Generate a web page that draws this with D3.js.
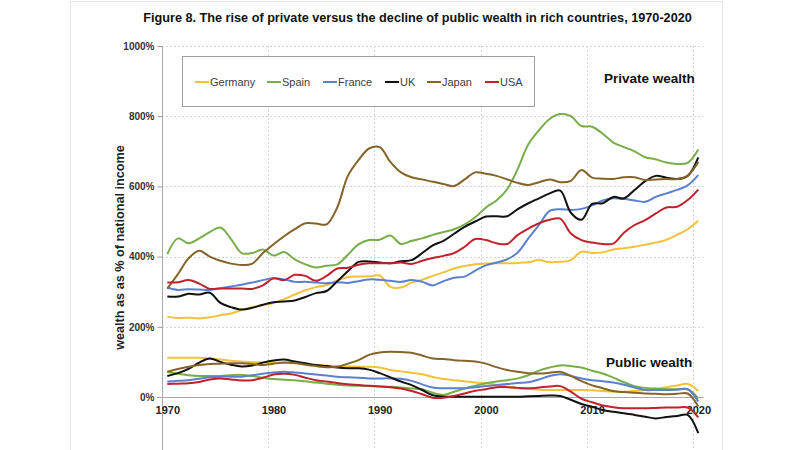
<!DOCTYPE html>
<html>
<head>
<meta charset="utf-8">
<script src="https://cdn.jsdelivr.net/npm/d3@7"></script>
<style>
  html, body { margin: 0; padding: 0; background: #fff; }
  svg { display: block; font-family: "Liberation Sans", Arial, sans-serif; }
</style>
</head>
<body>
<svg id="chart" width="800" height="450"></svg>
<script>
// ---------- DATA ----------
const years = d3.range(1970, 2021);
const countries = ["Germany", "Spain", "France", "UK", "Japan", "USA"];
const colors = ["#F3C13A", "#78AD4B", "#5B80CF", "#111111", "#846428", "#C0222B"];
const yTicks = [0, 200, 400, 600, 800, 1000];
const xTickYears = [1970, 1980, 1990, 2000, 2010, 2020];

const privateGermany = [229,225,226,224,227,233,238,248,256,262,268,279,292,304,313,319,332,342,343,344,346,314,312,326,334,345,355,366,373,378,380,381,381,382,384,390,384,385,390,414,410,412,420,424,428,434,440,448,462,478,502];
const privateSpain = [407,452,438,452,470,483,450,410,410,420,403,413,392,378,369,374,378,405,435,447,448,460,436,445,452,462,470,478,492,512,540,560,592,650,720,760,792,806,800,772,770,750,725,712,700,683,677,668,664,667,705];
const privateFrance = [311,305,307,306,305,310,315,320,326,333,338,335,328,328,326,324,327,325,330,335,334,331,328,333,328,318,330,340,343,360,375,383,392,412,452,490,530,535,533,536,546,560,566,564,560,556,570,580,590,603,632];
const privateUK = [286,286,294,292,297,268,256,249,254,263,270,272,275,285,296,302,330,358,385,386,383,381,387,390,410,432,445,465,485,500,514,515,515,535,552,566,580,588,525,505,550,552,570,566,590,615,630,625,621,630,683];
const privateJapan = [309,350,395,417,400,388,380,376,380,410,435,458,478,495,494,492,540,630,675,708,712,670,640,626,620,613,607,601,620,640,636,630,620,610,604,612,620,612,616,647,625,622,621,626,626,618,620,621,621,630,670];
const privateUSA = [326,327,333,323,308,309,309,309,308,318,338,333,348,345,331,345,366,368,377,381,381,381,383,379,388,396,402,410,428,450,447,438,436,462,480,495,505,508,466,447,440,436,437,468,490,504,523,540,542,561,591];

const publicGermany = [112,112,112,112,110,107,103,101,99,99,98,97,96,94,91,90,88,87,86,86,84,77,73,69,65,57,51,48,45,41,39,35,30,25,23,21,20,20,20,20,19,17,15,15,17,20,22,28,33,37,17];
const publicSpain = [72,66,62,60,60,60,62,63,60,55,51,49,48,45,41,38,35,33,32,31,30,29,27,24,22,12,6,15,24,32,39,44,48,53,62,75,84,90,88,84,75,67,55,42,31,26,24,22,22,22,-4];
const publicFrance = [44,46,48,52,56,58,58,58,62,66,70,72,70,67,64,61,58,56,55,53,53,53,52,46,36,27,25,25,25,28,31,34,37,40,42,50,60,65,60,53,48,45,41,35,27,20,20,20,21,22,-13];
const publicUK = [60,68,80,98,110,100,92,87,90,98,104,107,101,96,91,88,84,82,82,78,68,56,44,34,20,5,1,1,1,1,1,1,1,1,2,3,4,3,-8,-20,-28,-37,-42,-46,-51,-56,-61,-57,-54,-51,-103];
const publicJapan = [72,80,86,91,94,95,96,96,94,91,95,98,97,92,88,85,86,95,105,120,127,129,128,126,118,110,108,105,103,101,95,85,77,72,68,67,69,72,60,45,33,25,17,14,12,10,9,8,9,10,-27];
const publicUSA = [37,38,39,43,50,53,50,47,48,55,64,66,63,55,48,44,40,36,34,32,30,28,24,17,8,-2,-2,3,10,18,22,28,28,26,25,27,30,31,15,-5,-15,-24,-29,-32,-32,-32,-31,-30,-30,-30,-58];

const privateSeries = [privateGermany, privateSpain, privateFrance, privateUK, privateJapan, privateUSA];
const publicSeries = [publicGermany, publicSpain, publicFrance, publicUK, publicJapan, publicUSA];

// ---------- CHART ----------
const svg = d3.select("#chart");
const W = 800, H = 450;
const plotL = 162, plotR = 703.6, plotT = 46, zeroY = 397;

const x = d3.scaleLinear().domain([1969.5, 2020.5]).range([plotL, plotR]);
const y = d3.scaleLinear().domain([0, 1000]).range([zeroY, plotT]);

// page frame
svg.append("rect").attr("x", 0).attr("y", 0).attr("width", W).attr("height", H).attr("fill", "#fff");
svg.append("path").attr("d", `M70.5,${H} V1.5 H722.5 V${H}`).attr("fill", "none").attr("stroke", "#e4e4e4").attr("stroke-width", 1);

// gridlines
const grid = svg.append("g").attr("stroke", "#d6d6d6").attr("stroke-dasharray", "2,2").attr("stroke-width", 1);
grid.selectAll("line.h").data(yTicks.filter(d => d > 0)).enter().append("line")
  .attr("x1", plotL).attr("x2", plotR)
  .attr("y1", d => Math.round(y(d)) + 0.5).attr("y2", d => Math.round(y(d)) + 0.5);
grid.selectAll("line.v").data(xTickYears.slice(1)).enter().append("line")
  .attr("x1", d => Math.round(x(d - 0.5)) + 0.5).attr("x2", d => Math.round(x(d - 0.5)) + 0.5)
  .attr("y1", plotT).attr("y2", H);

// y axis
const yAxis = d3.axisLeft(y).tickValues(yTicks).tickSize(5).tickPadding(3).tickFormat(d => d + "%");
const gy = svg.append("g").attr("transform", `translate(${plotL + 0.5},0)`).call(yAxis);
gy.select(".domain").remove();
gy.selectAll(".tick line").attr("stroke", "#999");
gy.selectAll(".tick text").attr("font-size", 10).attr("font-weight", "bold").attr("fill", "#333")
  .attr("font-family", "Liberation Sans, Arial, sans-serif");
svg.append("line").attr("x1", plotL + 0.5).attr("x2", plotL + 0.5).attr("y1", plotT).attr("y2", H)
  .attr("stroke", "#a8a8a8").attr("stroke-width", 1);

// zero line (x axis)
svg.append("line").attr("x1", plotL - 5).attr("x2", plotR).attr("y1", zeroY + 0.5).attr("y2", zeroY + 0.5)
  .attr("stroke", "#a8a8a8").attr("stroke-width", 1);

// x labels
const xAxis = d3.axisBottom(x).tickValues(xTickYears).tickSize(0).tickPadding(9).tickFormat(d3.format("d"));
const gx = svg.append("g").attr("transform", `translate(0,${zeroY})`).call(xAxis);
gx.select(".domain").remove();
gx.selectAll(".tick text").attr("font-size", 11).attr("font-weight", "bold").attr("fill", "#222")
  .attr("font-family", "Liberation Sans, Arial, sans-serif");

// lines
const line = d3.line().x((d, i) => x(years[i])).y(d => y(d)).curve(d3.curveCatmullRom.alpha(0.5));
const linesG = svg.append("g").attr("fill", "none").attr("stroke-width", 2).attr("stroke-linejoin", "round");
publicSeries.forEach((s, i) => {
  linesG.append("path").attr("d", line(s)).attr("stroke", colors[i]);
});
privateSeries.forEach((s, i) => {
  linesG.append("path").attr("d", line(s)).attr("stroke", colors[i]);
});

// legend
const lg = svg.append("g");
lg.append("rect").attr("x", 182.5).attr("y", 56.5).attr("width", 352).attr("height", 50)
  .attr("fill", "#fff").attr("stroke", "#a0a0a0").attr("stroke-width", 1);
const legendX = [195, 267, 323, 385, 427, 485];
countries.forEach((c, i) => {
  lg.append("line").attr("x1", legendX[i]).attr("x2", legendX[i] + 14).attr("y1", 82).attr("y2", 82)
    .attr("stroke", colors[i]).attr("stroke-width", 2);
  lg.append("text").attr("x", legendX[i] + 15).attr("y", 86).attr("font-size", 11).attr("fill", "#404040").text(c);
});

// annotations
svg.append("text").attr("x", 604).attr("y", 83).attr("font-size", 13.5).attr("font-weight", "bold").attr("fill", "#111").text("Private wealth");
svg.append("text").attr("x", 606).attr("y", 367).attr("font-size", 13.5).attr("font-weight", "bold").attr("fill", "#111").text("Public wealth");

// title
const title = svg.append("text").attr("x", 417.5).attr("y", 22).attr("text-anchor", "middle")
  .attr("font-size", 13).attr("font-weight", "bold").attr("fill", "#111")
  .text("Figure 8. The rise of private versus the decline of public wealth in rich countries, 1970-2020");
const tw = title.node().getComputedTextLength();
title.attr("font-size", 13 * 549 / tw);

// y label
const ylab = svg.append("text").attr("transform", "translate(124,247.5) rotate(-90)").attr("text-anchor", "middle")
  .attr("font-size", 13).attr("font-weight", "bold").attr("fill", "#222")
  .text("wealth as as % of national income");
const yw = ylab.node().getComputedTextLength();
ylab.attr("font-size", 13 * 205 / yw);
</script>
</body>
</html>
